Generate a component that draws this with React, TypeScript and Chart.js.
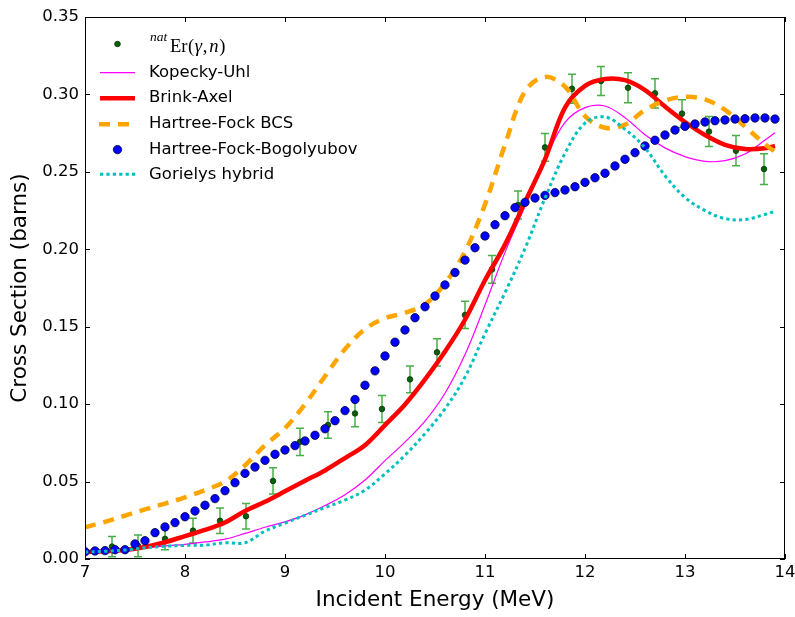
import React, { useEffect, useRef } from 'react';
import { Chart, registerables } from 'chart.js';

Chart.register(...registerables);

// ---------- data ----------
const curveEnergy = [7.0, 7.2, 7.4, 7.6, 7.8, 8.0, 8.2, 8.4, 8.6, 8.8, 9.0, 9.2, 9.4, 9.6, 9.8, 10.0, 10.2, 10.4, 10.6, 10.8, 11.0, 11.2, 11.4, 11.6, 11.8, 12.0, 12.2, 12.4, 12.6, 12.8, 13.0, 13.2, 13.4, 13.6, 13.8, 13.9];

const kopeckyUhl = [0.0045, 0.005, 0.0058, 0.0072, 0.0085, 0.0095, 0.011, 0.0128, 0.0165, 0.0205, 0.024, 0.0285, 0.0345, 0.0415, 0.051, 0.0635, 0.0755, 0.089, 0.107, 0.132, 0.164, 0.198, 0.228, 0.258, 0.282, 0.2915, 0.2925, 0.285, 0.274, 0.2655, 0.2598, 0.2568, 0.2572, 0.2615, 0.2705, 0.2753];

const brinkAxel = [0.0045, 0.005, 0.0058, 0.0077, 0.0108, 0.0148, 0.0188, 0.0236, 0.031, 0.037, 0.0437, 0.0505, 0.0572, 0.0652, 0.0735, 0.0865, 0.0998, 0.116, 0.134, 0.1545, 0.18, 0.203, 0.2305, 0.258, 0.2915, 0.3055, 0.31, 0.3092, 0.3028, 0.2922, 0.2822, 0.2738, 0.2675, 0.2648, 0.2652, 0.2667];

const hartreeFockBCS = [0.0205, 0.024, 0.028, 0.032, 0.0358, 0.0398, 0.0445, 0.05, 0.0605, 0.0735, 0.0845, 0.1, 0.118, 0.1355, 0.1485, 0.1555, 0.159, 0.1645, 0.178, 0.1985, 0.229, 0.2675, 0.302, 0.3113, 0.305, 0.286, 0.2785, 0.2805, 0.29, 0.296, 0.2985, 0.2968, 0.29, 0.2792, 0.2678, 0.263];

const gorielyHybrid = [0.0045, 0.005, 0.0058, 0.0072, 0.0082, 0.0088, 0.009, 0.0105, 0.0105, 0.018, 0.0232, 0.0282, 0.0332, 0.038, 0.0445, 0.055, 0.067, 0.081, 0.097, 0.1175, 0.1455, 0.172, 0.2005, 0.233, 0.262, 0.2815, 0.2855, 0.2775, 0.2655, 0.2475, 0.2335, 0.225, 0.2198, 0.2192, 0.2225, 0.2245];

const hfbEnergy = [7.0, 7.1, 7.2, 7.3, 7.4, 7.5, 7.6, 7.7, 7.8, 7.9, 8.0, 8.1, 8.2, 8.3, 8.4, 8.5, 8.6, 8.7, 8.8, 8.9, 9.0, 9.1, 9.2, 9.3, 9.4, 9.5, 9.6, 9.7, 9.8, 9.9, 10.0, 10.1, 10.2, 10.3, 10.4, 10.5, 10.6, 10.7, 10.8, 10.9, 11.0, 11.1, 11.2, 11.3, 11.4, 11.5, 11.6, 11.7, 11.8, 11.9, 12.0, 12.1, 12.2, 12.3, 12.4, 12.5, 12.6, 12.7, 12.8, 12.9, 13.0, 13.1, 13.2, 13.3, 13.4, 13.5, 13.6, 13.7, 13.8, 13.9];

const hartreeFockBogolyubov = [0.0047, 0.0052, 0.0054, 0.006, 0.006, 0.0097, 0.0118, 0.017, 0.0207, 0.0235, 0.0273, 0.031, 0.0347, 0.039, 0.0441, 0.0493, 0.0553, 0.0594, 0.0637, 0.0676, 0.0704, 0.0732, 0.0762, 0.0799, 0.0841, 0.0893, 0.0958, 0.103, 0.1122, 0.1215, 0.1311, 0.14, 0.1479, 0.1558, 0.1629, 0.1698, 0.177, 0.185, 0.193, 0.201, 0.2086, 0.2159, 0.2217, 0.2269, 0.2303, 0.2331, 0.2348, 0.2366, 0.2383, 0.2404, 0.2432, 0.2462, 0.2491, 0.2538, 0.2581, 0.2624, 0.2667, 0.2704, 0.2738, 0.277, 0.2794, 0.2809, 0.2822, 0.283, 0.2835, 0.2841, 0.2843, 0.2848, 0.2848, 0.2841];

const expEnergy = [7.27, 7.53, 7.8, 8.08, 8.35, 8.61, 8.88, 9.15, 9.43, 9.7, 9.97, 10.25, 10.52, 10.8, 11.07, 11.33, 11.6, 11.87, 12.16, 12.43, 12.7, 12.97, 13.24, 13.51, 13.79];
const expValue = [0.008, 0.0085, 0.013, 0.0183, 0.0247, 0.0276, 0.0504, 0.0757, 0.0865, 0.094, 0.0969, 0.116, 0.1335, 0.1576, 0.187, 0.2286, 0.2658, 0.3037, 0.3087, 0.3043, 0.3007, 0.2876, 0.276, 0.2637, 0.2518];
const expError = [0.0065, 0.007, 0.007, 0.008, 0.0083, 0.0083, 0.0085, 0.0088, 0.0086, 0.0086, 0.0087, 0.0086, 0.0088, 0.0088, 0.009, 0.009, 0.009, 0.0094, 0.0094, 0.0097, 0.0094, 0.009, 0.0097, 0.0097, 0.0099];

const xTickValues = [7, 8, 9, 10, 11, 12, 13, 14];
const xTickLabels = ['7', '8', '9', '10', '11', '12', '13', '14'];
const yTickValues = [0, 0.05, 0.1, 0.15, 0.2, 0.25, 0.3, 0.35];
const yTickLabels = ['0.00', '0.05', '0.10', '0.15', '0.20', '0.25', '0.30', '0.35'];

const seriesLabels = ['Kopecky-Uhl', 'Brink-Axel', 'Hartree-Fock BCS', 'Hartree-Fock-Bogolyubov', 'Gorielys hybrid'];

const FONT = "'DejaVu Sans', 'Noto Sans', sans-serif";

const toPts = (xs: number[], ys: number[]) => xs.map((x, i) => ({ x, y: ys[i] }));

// ---------- plugins ----------
const errorBarPlugin = {
  id: 'errorBars',
  beforeDatasetsDraw(chart: any) {
    const { ctx, chartArea: a, scales } = chart;
    const xs = scales.x;
    const ys = scales.y;
    ctx.save();
    ctx.beginPath();
    ctx.rect(a.left, a.top, a.right - a.left, a.bottom - a.top);
    ctx.clip();
    ctx.strokeStyle = 'rgba(40,160,40,0.85)';
    ctx.lineWidth = 1.5;
    expEnergy.forEach((e, i) => {
      const px = xs.getPixelForValue(e);
      const top = ys.getPixelForValue(expValue[i] + expError[i]);
      const bot = ys.getPixelForValue(expValue[i] - expError[i]);
      ctx.beginPath();
      ctx.moveTo(px, top);
      ctx.lineTo(px, bot);
      ctx.moveTo(px - 4, top);
      ctx.lineTo(px + 4, top);
      ctx.moveTo(px - 4, bot);
      ctx.lineTo(px + 4, bot);
      ctx.stroke();
    });
    ctx.restore();
  },
};

const framePlugin = {
  id: 'frame',
  afterDatasetsDraw(chart: any) {
    const { ctx, chartArea: a, scales } = chart;
    ctx.save();
    ctx.strokeStyle = '#000';
    ctx.lineWidth = 1;
    ctx.strokeRect(a.left + 0.5, a.top + 0.5, a.right - a.left - 1, a.bottom - a.top - 1);
    ctx.beginPath();
    xTickValues.forEach((v) => {
      const p = Math.round(scales.x.getPixelForValue(v)) + 0.5;
      ctx.moveTo(p, a.bottom);
      ctx.lineTo(p, a.bottom - 5);
      ctx.moveTo(p, a.top);
      ctx.lineTo(p, a.top + 5);
    });
    yTickValues.forEach((v) => {
      const p = Math.round(scales.y.getPixelForValue(v)) + 0.5;
      ctx.moveTo(a.left, p);
      ctx.lineTo(a.left + 5, p);
      ctx.moveTo(a.right, p);
      ctx.lineTo(a.right - 5, p);
    });
    ctx.stroke();
    ctx.restore();
  },
};

const legendPlugin = {
  id: 'customLegend',
  afterDraw(chart: any) {
    const { ctx } = chart;
    ctx.save();
    const x0 = 100;
    const x1 = 135;
    const xm = 117.5;
    const tx = 149;
    const rows = [44, 72.6, 98.2, 124.2, 149.6, 174.3];

    // row 1: experimental
    ctx.beginPath();
    ctx.arc(xm, rows[0], 2.8, 0, Math.PI * 2);
    ctx.fillStyle = '#0b5e0b';
    ctx.fill();
    ctx.lineWidth = 0.8;
    ctx.strokeStyle = '#063806';
    ctx.stroke();

    ctx.fillStyle = '#000';
    ctx.textBaseline = 'alphabetic';
    ctx.textAlign = 'left';
    ctx.font = "italic 13.5px 'Liberation Serif', serif";
    ctx.fillText('nat', 150, 41);
    let cx = 170;
    const base = 52;
    const pieces: [string, boolean][] = [['Er', false], ['(', false], ['γ', true], [',', false], ['n', true], [')', false]];
    pieces.forEach(([t, it]) => {
      ctx.font = (it ? 'italic ' : '') + "18.5px 'Liberation Serif', serif";
      ctx.fillText(t, cx, base);
      cx += ctx.measureText(t).width + (t === ',' ? 2 : 0.6);
    });

    // row 2: Kopecky-Uhl
    ctx.setLineDash([]);
    ctx.strokeStyle = '#ff00ff';
    ctx.lineWidth = 1.2;
    ctx.beginPath();
    ctx.moveTo(x0, rows[1]);
    ctx.lineTo(x1, rows[1]);
    ctx.stroke();

    // row 3: Brink-Axel
    ctx.strokeStyle = '#ff0000';
    ctx.lineWidth = 4.5;
    ctx.beginPath();
    ctx.moveTo(x0, rows[2]);
    ctx.lineTo(x1, rows[2]);
    ctx.stroke();

    // row 4: HF BCS
    ctx.strokeStyle = '#ffa500';
    ctx.lineWidth = 4.5;
    ctx.setLineDash([11, 8]);
    ctx.beginPath();
    ctx.moveTo(x0 - 1, rows[3]);
    ctx.lineTo(x1, rows[3]);
    ctx.stroke();
    ctx.setLineDash([]);

    // row 5: HFB
    ctx.beginPath();
    ctx.arc(xm, rows[4], 4.2, 0, Math.PI * 2);
    ctx.fillStyle = '#0000ff';
    ctx.fill();
    ctx.lineWidth = 0.8;
    ctx.strokeStyle = '#000033';
    ctx.stroke();

    // row 6: Goriely
    ctx.strokeStyle = '#00bfbf';
    ctx.lineWidth = 3;
    ctx.setLineDash([3.2, 3.2]);
    ctx.beginPath();
    ctx.moveTo(x0, rows[5]);
    ctx.lineTo(x1 + 2, rows[5]);
    ctx.stroke();
    ctx.setLineDash([]);

    ctx.fillStyle = '#000';
    ctx.font = `16.5px ${FONT}`;
    ctx.textBaseline = 'middle';
    seriesLabels.forEach((t, i) => {
      ctx.fillText(t, tx, rows[i + 1]);
    });
    ctx.restore();
  },
};

export default function App() {
  const ref = useRef<HTMLCanvasElement | null>(null);

  useEffect(() => {
    if (!ref.current) return;
    const lineBase = {
      showLine: true,
      pointRadius: 0,
      pointHoverRadius: 0,
      tension: 0.35,
      fill: false,
      clip: 0,
    };
    const chart = new Chart(ref.current, {
      type: 'scatter',
      data: {
        datasets: [
          {
            label: 'nat Er(γ,n)',
            data: toPts(expEnergy, expValue),
            pointRadius: 2.8,
            pointBackgroundColor: '#0b5e0b',
            pointBorderColor: '#063806',
            pointBorderWidth: 0.8,
            showLine: false,
            clip: 0,
            order: 6,
          },
          {
            ...lineBase,
            label: seriesLabels[0],
            data: toPts(curveEnergy, kopeckyUhl),
            borderColor: '#ff00ff',
            borderWidth: 1.2,
            order: 5,
          },
          {
            ...lineBase,
            label: seriesLabels[1],
            data: toPts(curveEnergy, brinkAxel),
            borderColor: '#ff0000',
            borderWidth: 4.5,
            order: 4,
          },
          {
            ...lineBase,
            label: seriesLabels[2],
            data: toPts(curveEnergy, hartreeFockBCS),
            borderColor: '#ffa500',
            borderWidth: 4.5,
            borderDash: [11, 8],
            order: 3,
          },
          {
            label: seriesLabels[3],
            data: toPts(hfbEnergy, hartreeFockBogolyubov),
            pointRadius: 4.2,
            pointBackgroundColor: '#0000ff',
            pointBorderColor: '#000033',
            pointBorderWidth: 0.8,
            showLine: false,
            clip: 0,
            order: 2,
          },
          {
            ...lineBase,
            label: seriesLabels[4],
            data: toPts(curveEnergy, gorielyHybrid),
            borderColor: '#00bfbf',
            borderWidth: 3,
            borderDash: [3.2, 3.2],
            order: 1,
          },
        ],
      } as any,
      options: {
        animation: false,
        responsive: true,
        maintainAspectRatio: false,
        events: [],
        layout: { padding: { top: 17, right: 10, left: 0, bottom: 0 } },
        plugins: { legend: { display: false }, tooltip: { enabled: false } },
        scales: {
          x: {
            type: 'linear',
            min: 7,
            max: 14,
            grid: { display: false, drawTicks: false },
            border: { display: false },
            afterBuildTicks: (s: any) => {
              s.ticks = xTickValues.map((v) => ({ value: v }));
            },
            afterFit: (s: any) => {
              s.height = 58;
              s.paddingLeft = 0;
              s.paddingRight = 0;
            },
            ticks: {
              color: '#000',
              padding: 4,
              maxRotation: 0,
              autoSkip: false,
              font: { family: FONT, size: 16.5 },
              callback: (_v: any, i: number) => xTickLabels[i],
            },
            title: {
              display: true,
              text: 'Incident Energy (MeV)',
              color: '#000',
              font: { family: FONT, size: 21.5 },
              padding: { top: 0, bottom: 4 },
            },
          },
          y: {
            type: 'linear',
            min: 0,
            max: 0.35,
            grid: { display: false, drawTicks: false },
            border: { display: false },
            afterBuildTicks: (s: any) => {
              s.ticks = yTickValues.map((v) => ({ value: v }));
            },
            afterFit: (s: any) => {
              s.width = 85;
              s.paddingTop = 0;
              s.paddingBottom = 0;
            },
            ticks: {
              color: '#000',
              padding: 6,
              autoSkip: false,
              font: { family: FONT, size: 16.5 },
              callback: (_v: any, i: number) => yTickLabels[i],
            },
            title: {
              display: true,
              text: 'Cross Section (barns)',
              color: '#000',
              font: { family: FONT, size: 21.5 },
              padding: { top: 8, bottom: 0 },
            },
          },
        },
      } as any,
      plugins: [errorBarPlugin, framePlugin, legendPlugin],
    });
    return () => chart.destroy();
  }, []);

  return (
    <div style={{ position: 'fixed', left: 0, top: 0, width: 795, height: 617, background: '#fff' }}>
      <canvas ref={ref} />
    </div>
  );
}
